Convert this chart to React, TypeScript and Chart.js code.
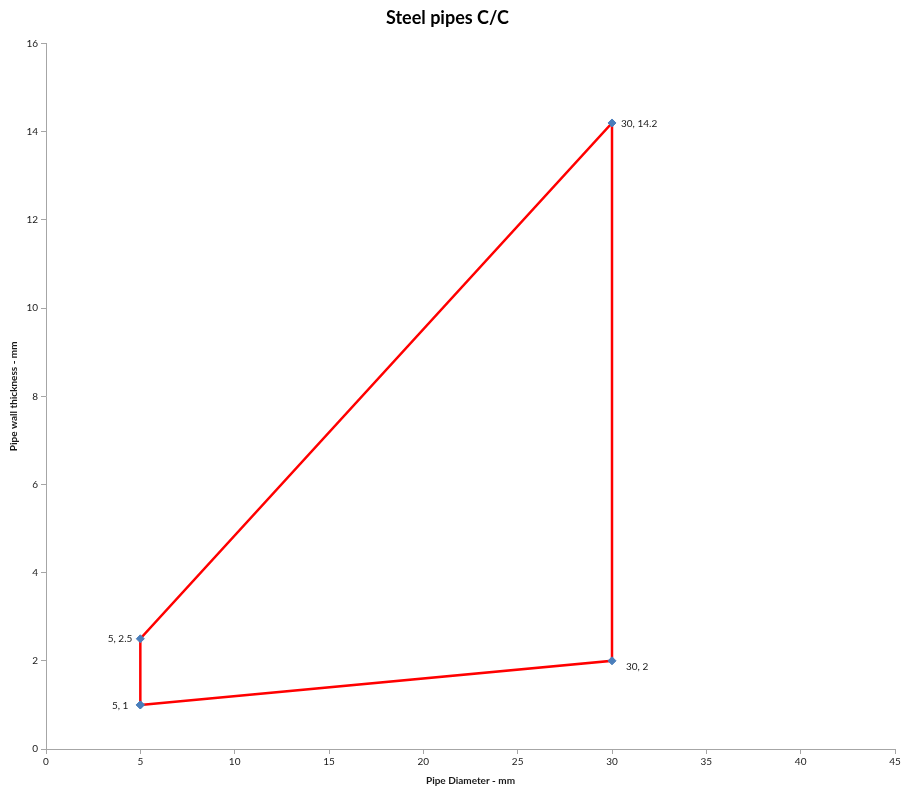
import React, { useEffect, useRef } from "react";
import { Chart, registerables } from "chart.js";

Chart.register(...registerables);

const xValues = [5, 5, 30, 30, 5];
const yValues = [1, 2.5, 14.2, 2, 1];
const pointLabels = ["5, 1", "5, 2.5", "30, 14.2", "30, 2", ""];
const chartTitle = "Steel pipes C/C";
const xTitle = "Pipe Diameter - mm";
const yTitle = "Pipe wall thickness - mm";

const FONT = "Lato, 'Open Sans', sans-serif";
// label placement style (side and small nudges), per point
const labelStyle = [
  { align: "right", dx: -12, dy: 1 },
  { align: "right", dx: -8, dy: 0 },
  { align: "left", dx: 9, dy: 1 },
  { align: "left", dx: 14, dy: 6 },
  { align: "left", dx: 0, dy: 0 },
];

const labelPlugin = {
  id: "pointLabels",
  afterDatasetsDraw(chart: any) {
    const ctx = chart.ctx;
    const meta = chart.getDatasetMeta(0);
    ctx.save();
    ctx.font = `10px ${FONT}`;
    ctx.fillStyle = "#1a1a1a";
    ctx.textBaseline = "middle";
    meta.data.forEach((pt: any, i: number) => {
      const txt = pointLabels[i];
      if (!txt) return;
      const s = labelStyle[i];
      ctx.textAlign = s.align;
      ctx.fillText(txt, pt.x + s.dx, pt.y + s.dy);
    });
    ctx.restore();
  },
};

export default function App() {
  const ref = useRef<HTMLCanvasElement>(null);
  useEffect(() => {
    document.body.style.margin = "0";
    const data = xValues.map((x, i) => ({ x, y: yValues[i] }));
    const chart = new Chart(ref.current!, {
      type: "scatter",
      data: {
        datasets: [
          {
            data,
            showLine: true,
            borderColor: "#ff0000",
            borderWidth: 2.5,
            pointStyle: "rectRot",
            pointRadius: 4,
            pointBackgroundColor: "#4a7ebb",
            pointBorderColor: "#4a7ebb",
            pointBorderWidth: 1,
            tension: 0,
          },
        ],
      },
      options: {
        responsive: false,
        animation: false,
        devicePixelRatio: 1,
        layout: { padding: { left: 0, right: 6, top: 0, bottom: 0 } },
        plugins: {
          legend: { display: false },
          tooltip: { enabled: false },
          title: {
            display: true,
            text: chartTitle,
            color: "#000",
            font: { family: FONT, size: 18, weight: "bold" },
            padding: { top: 7, bottom: 15 },
          },
        },
        scales: {
          x: {
            type: "linear",
            min: 0,
            max: 45,
            ticks: {
              stepSize: 5,
              color: "#1a1a1a",
              font: { family: FONT, size: 10 },
              padding: 2,
              maxRotation: 0,
            },
            grid: { drawOnChartArea: false, tickLength: 5, color: "#a6a6a6" },
            border: { color: "#a6a6a6", width: 1 },
            title: {
              display: true,
              text: xTitle,
              color: "#1a1a1a",
              font: { family: FONT, size: 10, weight: "bold" },
              padding: { top: 2, bottom: 0 },
            },
            afterFit(scale: any) {
              scale.height = 38;
              scale.paddingRight = 0;
              scale.paddingLeft = 0;
            },
          },
          y: {
            type: "linear",
            min: 0,
            max: 16,
            ticks: {
              stepSize: 2,
              color: "#1a1a1a",
              font: { family: FONT, size: 10 },
              padding: 3,
            },
            grid: { drawOnChartArea: false, tickLength: 5, color: "#a6a6a6" },
            border: { color: "#a6a6a6", width: 1 },
            title: {
              display: true,
              text: yTitle,
              color: "#1a1a1a",
              font: { family: FONT, size: 10, weight: "bold" },
              padding: { top: 8, bottom: 0 },
            },
            afterFit(scale: any) {
              scale.width = 46;
            },
          },
        },
      },
      plugins: [labelPlugin],
    });
    return () => chart.destroy();
  }, []);
  return (
    <div style={{ width: 901, height: 787, background: "#fff" }}>
      <canvas ref={ref} width={901} height={787} />
    </div>
  );
}
